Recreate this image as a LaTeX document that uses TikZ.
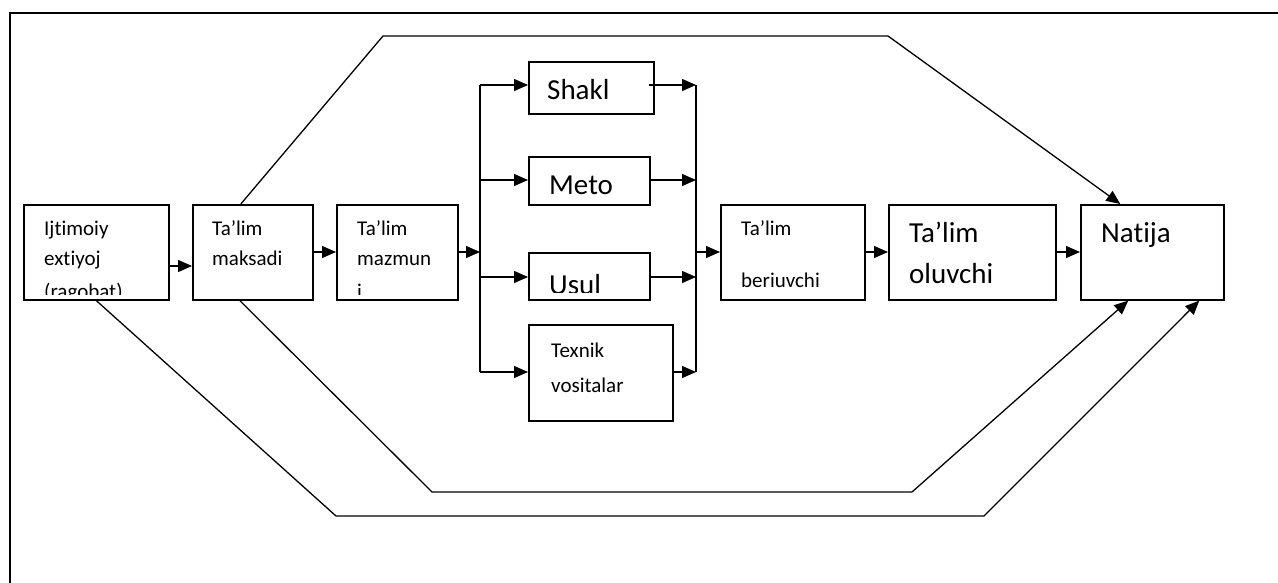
\documentclass[tikz,border=0pt]{standalone}
\usepackage{fontspec}
\setmainfont{Carlito}[Ligatures=NoCommon]
\usetikzlibrary{arrows.meta,calc}
\tikzset{
  box/.style={draw, line width=1.6pt, rectangle, inner sep=0pt, anchor=north west},
  conn/.style={line width=1.3pt},
  arr/.style={conn, -{Triangle[length=14pt,width=12pt]}},
  sm/.style={anchor=base west, inner sep=0pt, font=\fontsize{21}{25}\selectfont},
  lg/.style={anchor=base west, inner sep=0pt, font=\fontsize{29}{34}\selectfont},
}
\begin{document}
\begin{tikzpicture}[x=1pt,y=-1pt]
\useasboundingbox (0,0) rectangle (1278,583);
\draw[line width=2.2pt] (10,583) -- (10,13) -- (1278,13);

% boxes
\node[box, minimum width=145pt, minimum height=95pt] (ijt) at (23,204) {};
\node[box, minimum width=120pt, minimum height=95pt] (maks) at (192,204) {};
\node[box, minimum width=121pt, minimum height=95pt] (maz) at (336,204) {};
\node[box, minimum width=125pt, minimum height=52pt] (shakl) at (528,61) {};
\node[box, minimum width=121pt, minimum height=48pt] (meto) at (528,156) {};
\node[box, minimum width=121pt, minimum height=47pt] (usul) at (528,252) {};
\node[box, minimum width=144pt, minimum height=96pt] (tex) at (528,324) {};
\node[box, minimum width=144pt, minimum height=95pt] (ber) at (720,204) {};
\node[box, minimum width=167pt, minimum height=95pt] (olu) at (888,204) {};
\node[box, minimum width=143pt, minimum height=95pt] (nat) at (1080,204) {};

% texts (clipped like text boxes)
\begin{scope}
\clip (ijt.north west) rectangle ([yshift=6pt]ijt.south east);
\node[sm] (t1a) at (44,235) {Ijtimoiy};
\node[sm] (t1b) at (44,265) {extiyoj};
\node[sm] (t1c) at (44,298) {(ragobat)};
\end{scope}
\node[sm] (t2a) at (212,235) {Ta’lim};
\node[sm] (t2b) at (212,265) {maksadi};
\begin{scope}
\clip (maz.north west) rectangle ([yshift=6pt]maz.south east);
\node[sm] (t3a) at (357,235) {Ta’lim};
\node[sm] (t3b) at (357,265) {mazmun};
\node[sm] (t3c) at (357,298) {i};
\end{scope}
\node[lg] (t4) at (547,100) {Shakl};
\node[lg] (t5) at (549,194) {Meto};
\begin{scope}
\clip (usul.north west) rectangle ([yshift=8pt]usul.south east);
\node[lg] (t6) at (549,294) {Usul};
\end{scope}
\node[sm] (t7a) at (551,357) {Texnik};
\node[sm] (t7b) at (551,392) {vositalar};
\node[sm] (t8a) at (741,235) {Ta’lim};
\node[sm] (t8b) at (741,287) {beriuvchi};
\node[lg] (t9a) at (909,242) {Ta’lim};
\node[lg] (t9b) at (909,283) {oluvchi};
\node[lg] (t10) at (1101,243) {Natija};

% bus coordinates
\coordinate (L1) at (480,85);
\coordinate (L2) at (480,180);
\coordinate (L3) at (480,277);
\coordinate (L4) at (480,372);
\coordinate (LM) at (480,252);
\coordinate (R1) at (696,85);
\coordinate (R2) at (696,180);
\coordinate (R3) at (696,277);
\coordinate (R4) at (696,372);
\coordinate (RM) at (696,252);
\coordinate (Y1) at (0,266);
\coordinate (Y2) at (0,252);

% main chain
\draw[arr] (ijt.east |- Y1) -- (maks.west |- Y1);
\draw[arr] (maks.east |- Y2) -- (maz.west |- Y2);
\draw[arr] (maz.east |- LM) -- (LM);
\draw[conn] (L1) -- (L4);
\draw[arr] (L1) -- (L1 -| shakl.west);
\draw[arr] (L2) -- (L2 -| meto.west);
\draw[arr] (L3) -- (L3 -| usul.west);
\draw[arr] (L4) -- (L4 -| tex.west);
\draw[arr] ([xshift=-6pt]R1 -| shakl.east) -- (R1);
\draw[arr] (R2 -| meto.east) -- (R2);
\draw[arr] (R3 -| usul.east) -- (R3);
\draw[arr] (R4 -| tex.east) -- (R4);
\draw[conn] (R1) -- (R4);
\draw[arr] (RM) -- (RM -| ber.west);
\draw[arr] (ber.east |- Y2) -- (olu.west |- Y2);
\draw[arr] (olu.east |- Y2) -- (nat.west |- Y2);

% long bypass connectors
\coordinate (a1) at (383,36);
\coordinate (a2) at (888,36);
\coordinate (b1) at (432,492);
\coordinate (b2) at (912,492);
\coordinate (c1) at (336,516);
\coordinate (c2) at (984,516);
\draw[arr] ([xshift=-12pt]maks.north) -- (a1) -- (a2) -- ([xshift=-32pt]nat.north);
\draw[arr] ([xshift=-13pt]maks.south) -- (b1) -- (b2) -- ([xshift=-24pt]nat.south);
\draw[arr] (ijt.south) -- (c1) -- (c2) -- ([xshift=47pt]nat.south);
\end{tikzpicture}
\end{document}
